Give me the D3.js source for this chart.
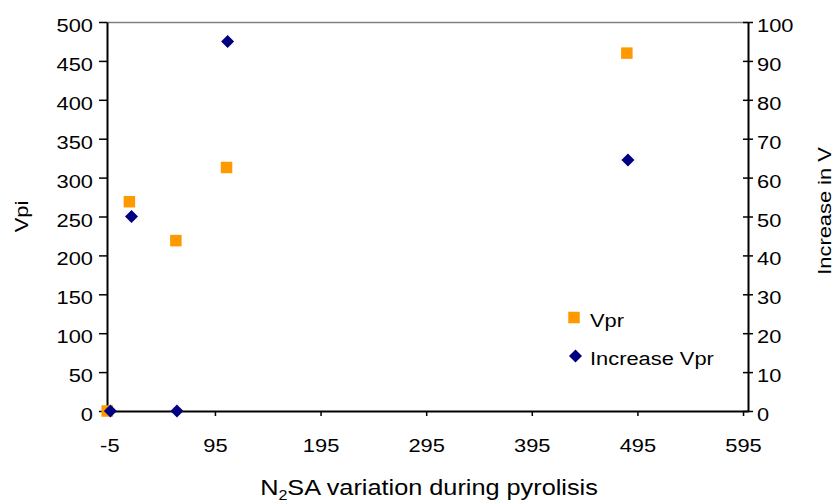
<!DOCTYPE html>
<html><head><meta charset="utf-8">
<script src="https://cdn.jsdelivr.net/npm/d3@7"></script>
<style>
body{margin:0;background:#fff;}
text{font-family:"Liberation Sans",Arial,sans-serif;fill:#000;}
</style></head>
<body><svg id="c" width="836" height="503"></svg>
<script>
// Data
const vprX = [-7, 14, 58, 106, 485];
const vprY = [0, 269, 219, 313, 460];
const incX = [-4, 16, 59, 107, 486];
const incY = [0, 50, 0, 95, 64.5];
const xTicks = [-5, 95, 195, 295, 395, 495, 595];
const yLeftTicks = [0, 50, 100, 150, 200, 250, 300, 350, 400, 450, 500];
const yRightTicks = [0, 10, 20, 30, 40, 50, 60, 70, 80, 90, 100];
const seriesNames = ["Vpr", "Increase Vpr"];

const svg = d3.select("#c");
const L = 107, R = 748, T = 22, B = 411;
const x = d3.scaleLinear().domain([-7.2, 599.7]).range([L, R]);
const yL = d3.scaleLinear().domain([0, 500]).range([B, T]);
const yR = d3.scaleLinear().domain([0, 100]).range([B, T]);
const fs = 19, sx = 1.15;
const fmt = d => String(d);

// top border
svg.append("line").attr("x1", L).attr("x2", R).attr("y1", T+0.5).attr("y2", T+0.5)
  .attr("stroke", "#808080").attr("stroke-width", 1.5);

// left axis
const gl = svg.append("g").attr("transform", `translate(${L},0)`)
  .call(d3.axisLeft(yL).tickValues(yLeftTicks).tickFormat(fmt).tickSize(8).tickPadding(4).tickSizeOuter(0));
// right axis
const gr = svg.append("g").attr("transform", `translate(${R},0)`)
  .call(d3.axisRight(yR).tickValues(yRightTicks).tickFormat(fmt).tickSize(5).tickPadding(4).tickSizeOuter(0));
gr.selectAll(".tick line").attr("x1", -5).attr("x2", 5);
// bottom axis
const gb = svg.append("g").attr("transform", `translate(0,${B})`)
  .call(d3.axisBottom(x).tickValues(xTicks).tickFormat(fmt).tickSize(5).tickPadding(23).tickSizeOuter(0));

[gl, gr, gb].forEach(g => {
  g.select(".domain").attr("stroke", "#000").attr("stroke-width", 2);
  g.selectAll(".tick line").attr("stroke", "#000").attr("stroke-width", 1.5);
  g.selectAll(".tick text").attr("font-size", fs)
    .attr("font-family", "Liberation Sans, Arial, sans-serif").attr("fill", "#000");
});
gl.selectAll(".tick text").attr("x", -14 / sx).attr("dy", "0.5em").attr("transform", `scale(${sx},1)`);
gr.selectAll(".tick text").attr("x", 9 / sx).attr("dy", "0.5em").attr("transform", `scale(${sx},1)`);
gb.selectAll(".tick text").attr("transform", `scale(${sx},1)`);

// axis titles
svg.append("text").attr("transform", `translate(28,${(T+B)/2}) rotate(-90) scale(${sx},1)`)
  .attr("text-anchor", "middle").attr("font-size", fs).text("Vpi");
svg.append("text").attr("transform", `translate(831,211) rotate(-90) scale(${sx},1)`)
  .attr("text-anchor", "middle").attr("font-size", fs).text("Increase in V");
const xt = svg.append("text").attr("transform", `translate(429,495) scale(${sx},1)`)
  .attr("text-anchor", "middle").attr("font-size", 22);
xt.append("tspan").text("N");
xt.append("tspan").attr("font-size", 14).attr("dy", 5).text("2");
xt.append("tspan").attr("dy", -5).text("SA variation during pyrolisis");

// markers
const sq = d3.symbol().type(d3.symbolSquare).size(132)();
const dm = "M0,-6.5L6.5,0L0,6.5L-6.5,0Z";
svg.append("g").selectAll("path").data(vprX.map((v, i) => [v, vprY[i]])).join("path")
  .attr("d", sq).attr("fill", "#FF9900")
  .attr("transform", d => `translate(${x(d[0])},${yL(d[1])})`);
svg.append("g").selectAll("path").data(incX.map((v, i) => [v, incY[i]])).join("path")
  .attr("d", dm).attr("fill", "#000080")
  .attr("transform", d => `translate(${x(d[0])},${yR(d[1])})`);

// legend
const lg = svg.append("g");
lg.append("path").attr("d", sq).attr("fill", "#FF9900").attr("transform", "translate(574,317.5)");
lg.append("text").attr("transform", `translate(590,326.5) scale(${sx},1)`).attr("font-size", fs).text(seriesNames[0]);
lg.append("path").attr("d", dm).attr("fill", "#000080").attr("transform", "translate(575.5,356)");
lg.append("text").attr("transform", `translate(590,365) scale(${sx},1)`).attr("font-size", fs).text(seriesNames[1]);
</script></body></html>
